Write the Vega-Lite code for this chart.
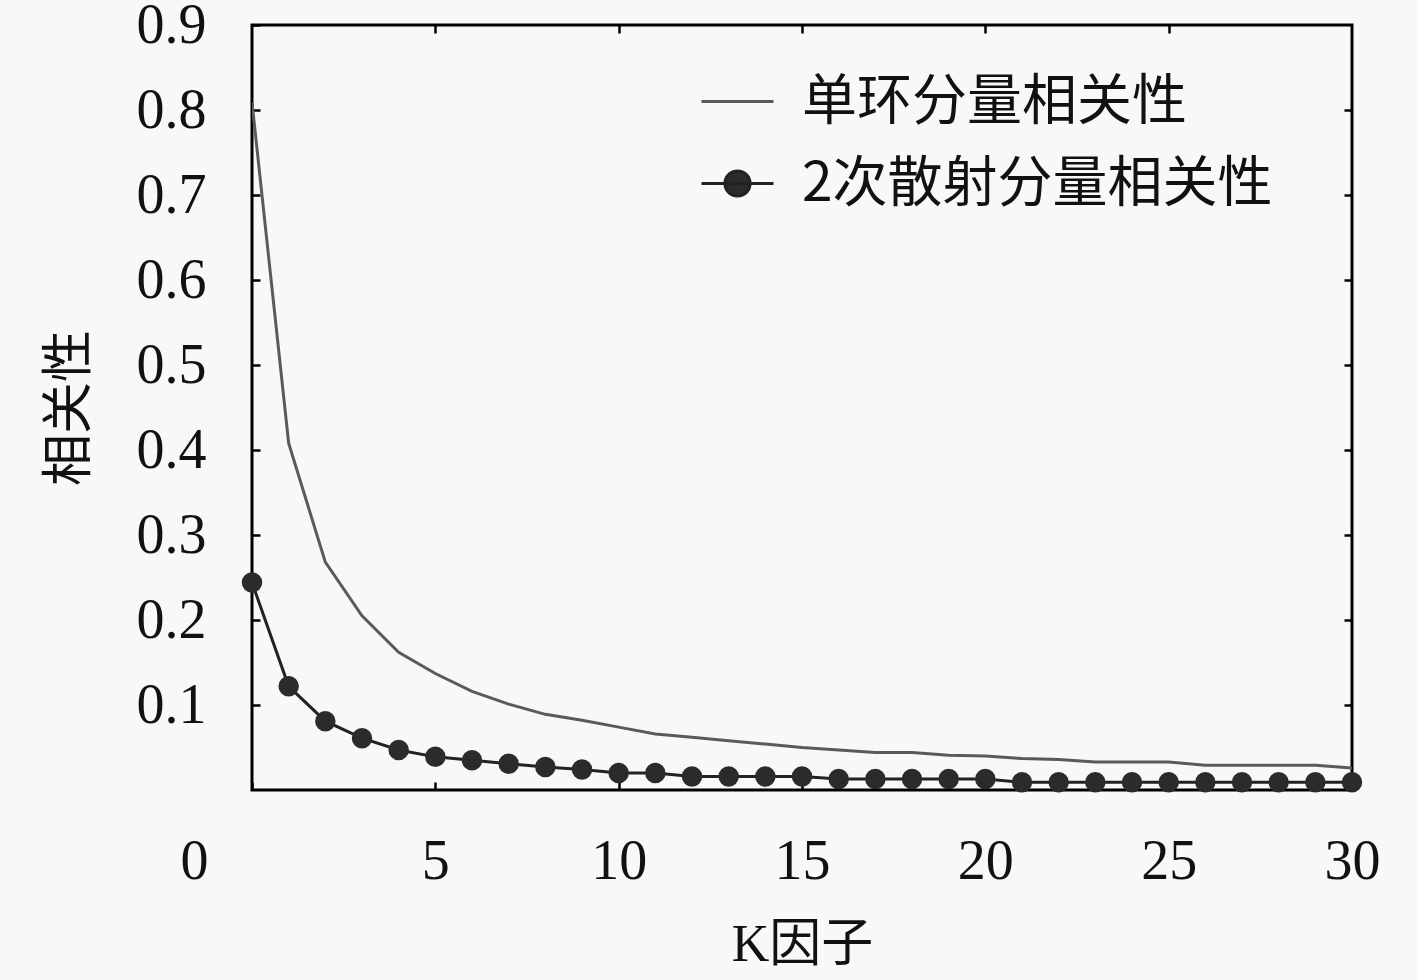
{
  "$schema": "https://vega.github.io/schema/vega-lite/v6.json",
  "width": 1100,
  "height": 765,
  "autosize": {"type": "none"},
  "padding": {"left": 252, "top": 25, "right": 65, "bottom": 190},
  "background": "#f8f8f8",
  "datasets": {
    "corr": [
      {"k": 0, "v": 0.809, "s": "单环分量相关性"},
      {"k": 1, "v": 0.408, "s": "单环分量相关性"},
      {"k": 2, "v": 0.268, "s": "单环分量相关性"},
      {"k": 3, "v": 0.205, "s": "单环分量相关性"},
      {"k": 4, "v": 0.162, "s": "单环分量相关性"},
      {"k": 5, "v": 0.137, "s": "单环分量相关性"},
      {"k": 6, "v": 0.116, "s": "单环分量相关性"},
      {"k": 7, "v": 0.101, "s": "单环分量相关性"},
      {"k": 8, "v": 0.089, "s": "单环分量相关性"},
      {"k": 9, "v": 0.082, "s": "单环分量相关性"},
      {"k": 10, "v": 0.074, "s": "单环分量相关性"},
      {"k": 11, "v": 0.066, "s": "单环分量相关性"},
      {"k": 12, "v": 0.062, "s": "单环分量相关性"},
      {"k": 13, "v": 0.058, "s": "单环分量相关性"},
      {"k": 14, "v": 0.054, "s": "单环分量相关性"},
      {"k": 15, "v": 0.050, "s": "单环分量相关性"},
      {"k": 16, "v": 0.047, "s": "单环分量相关性"},
      {"k": 17, "v": 0.044, "s": "单环分量相关性"},
      {"k": 18, "v": 0.044, "s": "单环分量相关性"},
      {"k": 19, "v": 0.041, "s": "单环分量相关性"},
      {"k": 20, "v": 0.040, "s": "单环分量相关性"},
      {"k": 21, "v": 0.037, "s": "单环分量相关性"},
      {"k": 22, "v": 0.036, "s": "单环分量相关性"},
      {"k": 23, "v": 0.033, "s": "单环分量相关性"},
      {"k": 24, "v": 0.033, "s": "单环分量相关性"},
      {"k": 25, "v": 0.033, "s": "单环分量相关性"},
      {"k": 26, "v": 0.029, "s": "单环分量相关性"},
      {"k": 27, "v": 0.029, "s": "单环分量相关性"},
      {"k": 28, "v": 0.029, "s": "单环分量相关性"},
      {"k": 29, "v": 0.029, "s": "单环分量相关性"},
      {"k": 30, "v": 0.026, "s": "单环分量相关性"},
      {"k": 0, "v": 0.244, "s": "2次散射分量相关性"},
      {"k": 1, "v": 0.122, "s": "2次散射分量相关性"},
      {"k": 2, "v": 0.081, "s": "2次散射分量相关性"},
      {"k": 3, "v": 0.061, "s": "2次散射分量相关性"},
      {"k": 4, "v": 0.047, "s": "2次散射分量相关性"},
      {"k": 5, "v": 0.039, "s": "2次散射分量相关性"},
      {"k": 6, "v": 0.035, "s": "2次散射分量相关性"},
      {"k": 7, "v": 0.031, "s": "2次散射分量相关性"},
      {"k": 8, "v": 0.027, "s": "2次散射分量相关性"},
      {"k": 9, "v": 0.024, "s": "2次散射分量相关性"},
      {"k": 10, "v": 0.020, "s": "2次散射分量相关性"},
      {"k": 11, "v": 0.020, "s": "2次散射分量相关性"},
      {"k": 12, "v": 0.016, "s": "2次散射分量相关性"},
      {"k": 13, "v": 0.016, "s": "2次散射分量相关性"},
      {"k": 14, "v": 0.016, "s": "2次散射分量相关性"},
      {"k": 15, "v": 0.016, "s": "2次散射分量相关性"},
      {"k": 16, "v": 0.013, "s": "2次散射分量相关性"},
      {"k": 17, "v": 0.013, "s": "2次散射分量相关性"},
      {"k": 18, "v": 0.013, "s": "2次散射分量相关性"},
      {"k": 19, "v": 0.013, "s": "2次散射分量相关性"},
      {"k": 20, "v": 0.013, "s": "2次散射分量相关性"},
      {"k": 21, "v": 0.009, "s": "2次散射分量相关性"},
      {"k": 22, "v": 0.009, "s": "2次散射分量相关性"},
      {"k": 23, "v": 0.009, "s": "2次散射分量相关性"},
      {"k": 24, "v": 0.009, "s": "2次散射分量相关性"},
      {"k": 25, "v": 0.009, "s": "2次散射分量相关性"},
      {"k": 26, "v": 0.009, "s": "2次散射分量相关性"},
      {"k": 27, "v": 0.009, "s": "2次散射分量相关性"},
      {"k": 28, "v": 0.009, "s": "2次散射分量相关性"},
      {"k": 29, "v": 0.009, "s": "2次散射分量相关性"},
      {"k": 30, "v": 0.009, "s": "2次散射分量相关性"}
    ]
  },
  "data": {"name": "corr"},
  "layer": [
    {
      "mark": {"type": "line", "strokeWidth": 3, "clip": true},
      "encoding": {
        "x": {
          "field": "k", "type": "quantitative",
          "scale": {"domain": [0, 30], "nice": false, "zero": false},
          "axis": {
            "values": [0, 5, 10, 15, 20, 25, 30],
            "title": "K因子",
            "titleFont": "Liberation Serif, Noto Sans CJK SC",
            "titleFontSize": 52,
            "titleFontWeight": "normal",
            "titleColor": "#111111",
            "titlePadding": 30,
            "labelFont": "Liberation Serif",
            "labelFontSize": 56,
            "labelColor": "#111111",
            "labelPadding": 52,
            "labelOffset": {"expr": "datum.value === 0 ? -58 : 0"},
            "labelFlush": false,
            "labelOverlap": false,
            "tickSize": -8,
            "tickWidth": 2.5,
            "tickColor": "#000000",
            "domain": false,
            "grid": false
          }
        },
        "y": {
          "field": "v", "type": "quantitative",
          "scale": {"domain": [0, 0.9], "nice": false},
          "axis": {
            "values": [0.1, 0.2, 0.3, 0.4, 0.5, 0.6, 0.7, 0.8, 0.9],
            "format": ".1f",
            "title": "相关性",
            "titleFont": "Noto Sans CJK SC",
            "titleFontSize": 52,
            "titleFontWeight": "normal",
            "titleColor": "#111111",
            "titlePadding": 40,
            "labelFont": "Liberation Serif",
            "labelFontSize": 56,
            "labelColor": "#111111",
            "labelPadding": 54,
            "labelFlush": false,
            "labelOverlap": false,
            "tickSize": -8,
            "tickWidth": 2.5,
            "tickColor": "#000000",
            "domain": false,
            "grid": false
          }
        },
        "color": {
          "field": "s", "type": "nominal",
          "scale": {"domain": ["单环分量相关性", "2次散射分量相关性"], "range": ["#5a5a5a", "#222222"]},
          "legend": {
            "title": null,
            "orient": "none",
            "legendX": 448,
            "legendY": 39,
            "symbolType": "M-1,0H1",
            "symbolSize": 5184,
            "symbolStrokeWidth": 3,
            "labelFont": "Noto Sans CJK SC",
            "labelFontSize": 55,
            "labelColor": "#111111",
            "labelOffset": 27,
            "labelLimit": 1000,
            "rowPadding": 16,
            "encode": {
              "symbols": {
                "update": {
                  "shape": {"signal": "datum.value === '2次散射分量相关性' ? 'M-1,0H1M-0.35,0A0.35,0.35 0 1,0 0.35,0A0.35,0.35 0 1,0 -0.35,0Z' : 'M-1,0H1'"},
                  "fill": {"signal": "datum.value === '2次散射分量相关性' ? '#2b2b2b' : 'transparent'"}
                }
              }
            }
          }
        }
      }
    },
    {
      "transform": [{"filter": "datum.s === '2次散射分量相关性'"}],
      "mark": {"type": "point", "filled": true, "size": 420, "color": "#2b2b2b", "opacity": 1},
      "encoding": {
        "x": {
          "field": "k", "type": "quantitative",
          "axis": {"orient": "top", "values": [5, 10, 15, 20, 25], "labels": false, "title": null, "tickSize": -8, "tickWidth": 2.5, "tickColor": "#000000", "domain": false, "grid": false}
        },
        "y": {
          "field": "v", "type": "quantitative",
          "axis": {"orient": "right", "values": [0.1, 0.2, 0.3, 0.4, 0.5, 0.6, 0.7, 0.8], "labels": false, "title": null, "tickSize": -8, "tickWidth": 2.5, "tickColor": "#000000", "domain": false, "grid": false}
        }
      }
    }
  ],
  "resolve": {"axis": {"x": "independent", "y": "independent"}},
  "config": {
    "view": {"stroke": "#000000", "strokeWidth": 3}
  }
}
